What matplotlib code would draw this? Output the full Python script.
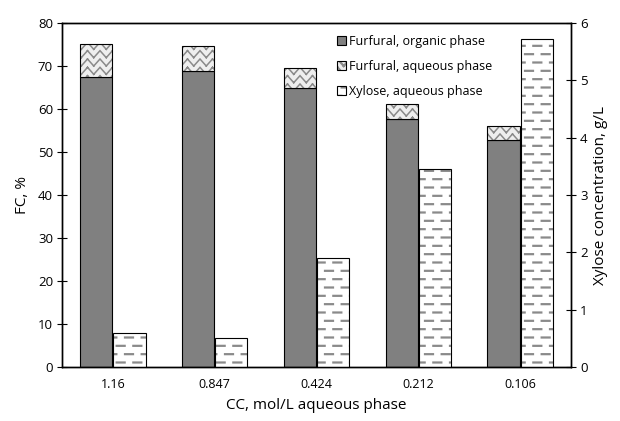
import warnings
warnings.filterwarnings("ignore")
import numpy as np
import matplotlib
matplotlib.use("Agg")
import matplotlib.pyplot as plt
import matplotlib.hatch as mhatch
from matplotlib.path import Path
from matplotlib.legend_handler import HandlerTuple

# ---------------- data ----------------
categories = ["1.16", "0.847", "0.424", "0.212", "0.106"]
furfural_organic = [67.4, 68.8, 65.0, 57.7, 52.8]
furfural_aqueous = [7.8, 6.0, 4.5, 3.6, 3.2]
xylose_aqueous = [0.6, 0.5, 1.9, 3.45, 5.72]
legend_labels = ["Furfural, organic phase", "Furfural, aqueous phase", "Xylose, aqueous phase"]


# ---------------- custom hatch patterns ----------------
class DashHatch(mhatch.HatchPatternBase):
    """staggered short dashes (char 'd')"""
    def __init__(self, hatch, density):
        n = hatch.count('d')
        self.n = int(n * density) if n else 0
        self.num_vertices = self.n * self.n * 2 * 2

    def set_vertices_and_codes(self, vertices, codes):
        n = self.n
        s = 1.0 / n
        k = 0
        for i in range(n):
            for j in range(n):
                x0 = j * s
                y0 = i * s
                for (xa, xb, yy) in ((0.0, 0.48, 0.25), (0.5, 0.98, 0.75)):
                    vertices[k] = (x0 + xa * s, y0 + yy * s)
                    vertices[k + 1] = (x0 + xb * s, y0 + yy * s)
                    codes[k] = Path.MOVETO
                    codes[k + 1] = Path.LINETO
                    k += 2


class WaveHatch(mhatch.HatchPatternBase):
    """zigzag wave lines (char 'z'), drawn as separate segments"""
    def __init__(self, hatch, density):
        n = hatch.count('z')
        self.rows = int(n * density * 2) if n else 0
        self.per = int(round(n * density * 1.4)) if n else 0
        self.num_vertices = self.rows * (2 * self.per) * 2 if n else 0

    def set_vertices_and_codes(self, vertices, codes):
        rows, per = self.rows, self.per
        k = 0
        amp = 0.42 / rows
        xs = np.linspace(0, 1, 2 * per + 1)
        for r in range(rows):
            y = (r + 0.5) / rows
            ys = [y + (amp if m % 2 == 0 else -amp) for m in range(len(xs))]
            for m in range(len(xs) - 1):
                vertices[k] = (xs[m], ys[m])
                vertices[k + 1] = (xs[m + 1], ys[m + 1])
                codes[k] = Path.MOVETO
                codes[k + 1] = Path.LINETO
                k += 2


mhatch._hatch_types.append(DashHatch)
mhatch._hatch_types.append(WaveHatch)

# ---------------- style ----------------
plt.rcParams['font.family'] = ['Open Sans', 'DejaVu Sans']
plt.rcParams['font.size'] = 9

fig = plt.figure(figsize=(6.2, 4.21), dpi=100)
ax = fig.add_axes([0.100, 0.128, 0.821, 0.817])
ax2 = ax.twinx()

x = np.arange(len(categories))
w = 0.315
off = 0.163

gray = '#808080'
hgray = '#8a8a8a'

# furfural organic
b1 = ax.bar(x - off, furfural_organic, w, color=gray, edgecolor='black', linewidth=0.8, zorder=2)

# furfural aqueous (hatched, stacked)
plt.rcParams['hatch.linewidth'] = 1.1
b2h = ax.bar(x - off, furfural_aqueous, w, bottom=furfural_organic, color='#eeeeee',
             edgecolor=hgray, linewidth=0, hatch='z', zorder=2)
b2o = ax.bar(x - off, furfural_aqueous, w, bottom=furfural_organic, fill=False,
             edgecolor='black', linewidth=0.8, zorder=3)

# xylose (right axis)
plt.rcParams['hatch.linewidth'] = 1.6
b3h = ax2.bar(x + off, xylose_aqueous, w, color='white', edgecolor=hgray, linewidth=0,
              hatch='d', zorder=2)
b3o = ax2.bar(x + off, xylose_aqueous, w, fill=False, edgecolor='black', linewidth=0.8, zorder=3)

ax.set_xlim(-0.5, len(categories) - 0.5)
ax.set_ylim(0, 80)
ax2.set_ylim(0, 6)
ax.set_yticks(np.arange(0, 81, 10))
ax2.set_yticks(np.arange(0, 7, 1))
ax.set_xticks(x)
ax.set_xticklabels(categories)
ax.tick_params(axis='x', length=0, pad=8, labelsize=9)
ax.tick_params(axis='y', direction='inout', length=7, width=0.8, labelsize=9.5, pad=3)
ax2.tick_params(axis='y', direction='inout', length=7, width=0.8, labelsize=9.5, pad=3)

for a in (ax, ax2):
    for s in a.spines.values():
        s.set_color('black')
        s.set_linewidth(1.0)

ax.set_ylabel("FC, %", fontsize=11, labelpad=6)
ax2.set_ylabel("Xylose concentration, g/L", fontsize=11, labelpad=4)
ax.set_xlabel("CC, mol/L aqueous phase", fontsize=11, labelpad=5)

handles = [b1[0], (b2h[0], b2o[0]), (b3h[0], b3o[0])]
leg = ax2.legend(handles, legend_labels, loc='upper left', bbox_to_anchor=(0.53, 0.98),
                 frameon=False, fontsize=9, handlelength=0.75, handleheight=0.75,
                 handletextpad=0.25, labelspacing=0.95, borderaxespad=0,
                 handler_map={tuple: HandlerTuple(ndivide=1)})

fig.savefig("out.png", dpi=100)
